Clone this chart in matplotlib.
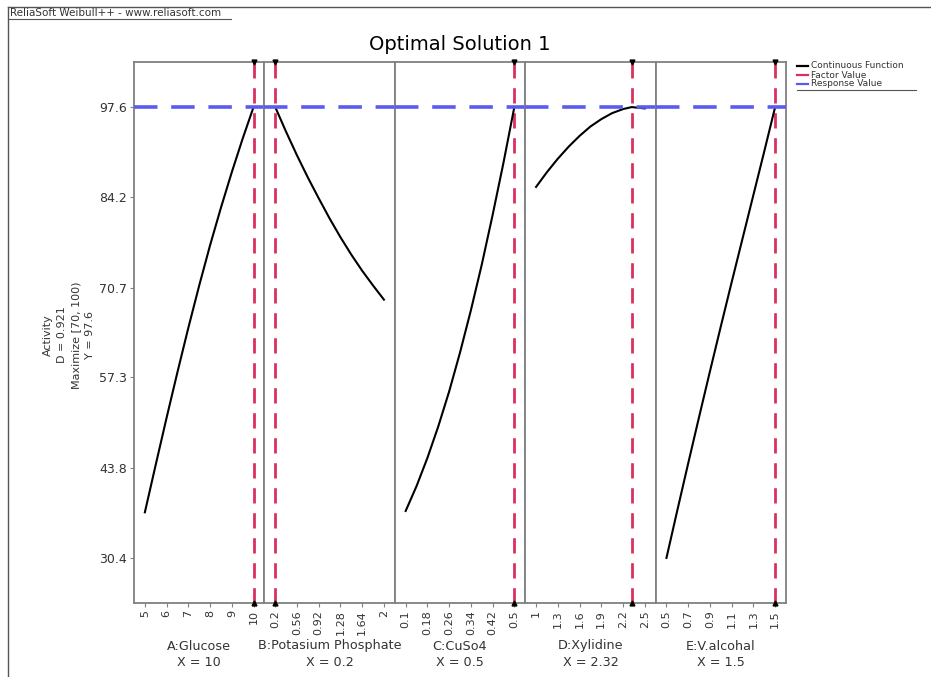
"""
Optimal Solution 1 - factor profile plot (Weibull++ style)
"""

import matplotlib
matplotlib.use('Agg')
import matplotlib.pyplot as plt
from matplotlib.lines import Line2D

# 数据: 每个因子的取值和对应的 Activity
glucose_x = [5, 5.5, 6, 6.5, 7, 7.5, 8, 8.5, 9, 9.5, 10]
glucose_y = [37.2, 44.3, 51.3, 58.1, 64.7, 71.0, 77.0, 82.6, 87.9, 92.9, 97.6]

phosphate_x = [0.2, 0.38, 0.56, 0.74, 0.92, 1.1, 1.28, 1.46, 1.64, 1.82, 2.0]
phosphate_y = [97.6, 93.9, 90.4, 87.1, 84.0, 81.0, 78.2, 75.6, 73.2, 71.0, 68.9]

cuso4_x = [0.1, 0.14, 0.18, 0.22, 0.26, 0.3, 0.34, 0.38, 0.42, 0.46, 0.5]
cuso4_y = [37.4, 41.1, 45.3, 50.0, 55.2, 61.0, 67.3, 74.1, 81.5, 89.3, 97.6]

xylidine_x = [1.0, 1.15, 1.3, 1.45, 1.6, 1.75, 1.9, 2.05, 2.2, 2.32, 2.5]
xylidine_y = [85.7, 87.9, 89.9, 91.7, 93.3, 94.7, 95.8, 96.7, 97.3, 97.6, 97.4]

alcohal_x = [0.5, 0.6, 0.7, 0.8, 0.9, 1.0, 1.1, 1.2, 1.3, 1.4, 1.5]
alcohal_y = [30.4, 37.5, 44.5, 51.4, 58.2, 64.9, 71.5, 78.0, 84.5, 91.0, 97.6]

factor_names = ['A:Glucose', 'B:Potasium Phosphate', 'C:CuSo4', 'D:Xylidine', 'E:V.alcohal']
factor_values = [10, 0.2, 0.5, 2.32, 1.5]
factor_labels = ['10', '0.2', '0.5', '2.32', '1.5']
x_ticks = [
    [5, 6, 7, 8, 9, 10],
    [0.2, 0.56, 0.92, 1.28, 1.64, 2],
    [0.1, 0.18, 0.26, 0.34, 0.42, 0.5],
    [1, 1.3, 1.6, 1.9, 2.2, 2.5],
    [0.5, 0.7, 0.9, 1.1, 1.3, 1.5],
]
x_tick_labels = [
    ['5', '6', '7', '8', '9', '10'],
    ['0.2', '0.56', '0.92', '1.28', '1.64', '2'],
    ['0.1', '0.18', '0.26', '0.34', '0.42', '0.5'],
    ['1', '1.3', '1.6', '1.9', '2.2', '2.5'],
    ['0.5', '0.7', '0.9', '1.1', '1.3', '1.5'],
]
y_ticks = [30.4, 43.8, 57.3, 70.7, 84.2, 97.6]
y_tick_labels = ['30.4', '43.8', '57.3', '70.7', '84.2', '97.6']
response_value = 97.6
y_label_lines = ['Activity', 'D = 0.921', 'Maximize [70, 100)', 'Y = 97.6']

curves_x = [glucose_x, phosphate_x, cuso4_x, xylidine_x, alcohal_x]
curves_y = [glucose_y, phosphate_y, cuso4_y, xylidine_y, alcohal_y]

W, H = 931, 677
FRAME = '#808080'
TEXT = '#333333'
RED = '#d9305e'
BLUE = '#5b5bef'


def fx(px):
    return px / W


def fy(py):
    return 1 - py / H


def draw():
    plt.rcParams['font.family'] = ['DejaVu Sans']
    fig, axes = plt.subplots(1, 5, sharey=True, figsize=(W / 100, H / 100), dpi=100)
    fig.subplots_adjust(left=fx(134), right=fx(786), top=fy(62), bottom=fy(603), wspace=0)

    ymin, ymax = min(y_ticks), max(y_ticks)
    pad_y = (ymax - ymin) * 0.1

    for i, ax in enumerate(axes):
        ticks = x_ticks[i]
        lo, hi = ticks[0], ticks[-1]
        pad = (hi - lo) * 0.1
        ax.set_xlim(lo - pad, hi + pad)
        ax.set_ylim(ymin - pad_y, ymax + pad_y)

        # 曲线
        ax.plot(curves_x[i], curves_y[i], color='black', lw=1.5, zorder=3)
        # 因子值 (红色虚线)
        ax.axvline(factor_values[i], color=RED, lw=2, dashes=(5.5, 3.5), zorder=2)
        # 响应值 (蓝色虚线)
        ax.axhline(response_value, color=BLUE, lw=2.6, dashes=(6.5, 3.8), zorder=4)
        # 红线两端的小黑点
        ax.plot([factor_values[i]], [ymax + pad_y], marker='v', color='black',
                ms=3.5, clip_on=False, zorder=5)
        ax.plot([factor_values[i]], [ymin - pad_y], marker='^', color='black',
                ms=3.5, clip_on=False, zorder=5)

        ax.set_xticks(ticks)
        ax.set_xticklabels(x_tick_labels[i], rotation=90, fontsize=8, color=TEXT)
        ax.tick_params(axis='x', length=3, color=FRAME, pad=2)
        for s in ax.spines.values():
            s.set_color(FRAME)
            s.set_linewidth(1.3)
        if i > 0:
            ax.tick_params(axis='y', left=False)

        # 因子名称 (固定高度)
        pos = ax.get_position()
        cx = (pos.x0 + pos.x1) / 2
        fig.text(cx, fy(646), factor_names[i], fontsize=9.2, ha='center', va='center', color=TEXT)
        fig.text(cx, fy(662), f'X = {factor_labels[i]}', fontsize=9.2, ha='center',
                 va='center', color=TEXT)

    axes[0].set_yticks(y_ticks)
    axes[0].set_yticklabels(y_tick_labels, fontsize=9, color=TEXT)
    axes[0].tick_params(axis='y', length=3, color=FRAME, pad=2)

    # 标题
    fig.text(fx(460), fy(45), 'Optimal Solution 1', fontsize=14, ha='center', va='center')

    # y 轴说明 (逐行旋转)
    for k, line in enumerate(y_label_lines):
        fig.text(fx(48 + k * 14), fy(335), line, rotation=90, fontsize=8,
                 ha='center', va='center', color=TEXT)

    # 图例
    items = [('Continuous Function', 'black'), ('Factor Value', RED), ('Response Value', BLUE)]
    for k, (name, col) in enumerate(items):
        y = 66 + k * 9
        fig.add_artist(Line2D([fx(797), fx(808)], [fy(y), fy(y)], color=col, lw=1.6))
        fig.text(fx(811), fy(y), name, fontsize=6.5, va='center', ha='left', color=TEXT)
    fig.add_artist(Line2D([fx(797), fx(916)], [fy(89.5), fy(89.5)], color='#555555', lw=0.8))

    # 外框和页眉
    fig.add_artist(Line2D([fx(8), fx(931)], [fy(7), fy(7)], color='#555555', lw=1))
    fig.add_artist(Line2D([fx(8), fx(8)], [fy(7), fy(677)], color='#555555', lw=1))
    fig.text(fx(10), fy(13), 'ReliaSoft Weibull++ - www.reliasoft.com', fontsize=7.5,
             va='center', ha='left', color=TEXT)
    fig.add_artist(Line2D([fx(8), fx(231)], [fy(18.5), fy(18.5)], color='#555555', lw=0.8))

    plt.savefig('out.png', dpi=100)
    plt.close()


if __name__ == '__main__':
    draw()
